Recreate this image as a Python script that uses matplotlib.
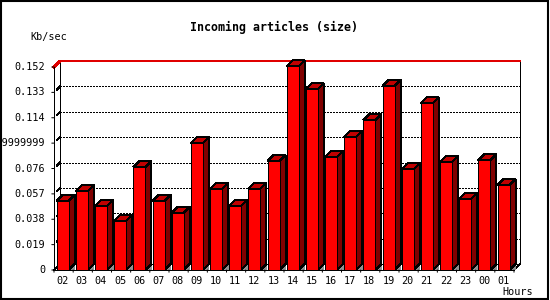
import matplotlib
matplotlib.use('Agg')
import matplotlib.pyplot as plt
from matplotlib.patches import Polygon, Rectangle

# hourly values
hours = ['02', '03', '04', '05', '06', '07', '08', '09', '10', '11', '12', '13',
         '14', '15', '16', '17', '18', '19', '20', '21', '22', '23', '00', '01']
kbsec = [0.0517, 0.0592, 0.0479, 0.0367, 0.0771, 0.0517, 0.0427, 0.0951,
         0.0607, 0.0479, 0.0607, 0.0816, 0.1525, 0.1353, 0.0846, 0.0996,
         0.1121, 0.1378, 0.0756, 0.1248, 0.0807, 0.0532, 0.0821, 0.0636]
yticks = [0, 0.019, 0.038, 0.057, 0.076, 0.095, 0.114, 0.133, 0.152]
ylabels = ['0', '0.019', '0.038', '0.057', '0.076', '0.0949999999',
           '0.114', '0.133', '0.152']

W, H = 550, 300
fig = plt.figure(figsize=(W / 100, H / 100), dpi=100)
fig.patch.set_facecolor('white')
ax = fig.add_axes([54 / W, 30 / H, 460 / W, 203 / H])
ax.set_xlim(0, len(hours))
ax.set_ylim(0, 0.152)
ax.axis('off')

# 3d depth in data units (6 px)
dx = 6 / (460 / len(hours))
dy = 6 / (203 / 0.152)
lw = 0.72
mono = 'DejaVu Sans Mono'

# back plane gridlines
for v in yticks[1:-1]:
    ax.plot([dx, len(hours) + dx], [v + dy, v + dy], color='black', lw=lw,
            linestyle=(0, (2, 2)), clip_on=False, zorder=1, antialiased=False)
    ax.plot([dx * 0.5, dx], [v + dy * 0.5, v + dy], color='black', lw=lw,
            clip_on=False, zorder=1, antialiased=False)

# back plane frame
ax.plot([dx, dx], [dy, 0.152 + dy], color='black', lw=lw, clip_on=False,
        zorder=1, antialiased=False)
ax.plot([len(hours) + dx] * 2, [dy, 0.152 + dy], color='black', lw=lw,
        clip_on=False, zorder=1, antialiased=False)
ax.plot([0, dx, len(hours) + dx], [0.152, 0.152 + dy, 0.152 + dy],
        color='#e00000', lw=1.2, clip_on=False, zorder=1, antialiased=False)
# floor
ax.plot([0, dx], [0, dy], color='black', lw=lw, clip_on=False, zorder=1,
        antialiased=False)
ax.plot([len(hours), len(hours) + dx], [0, dy], color='black', lw=lw,
        clip_on=False, zorder=1, antialiased=False)
ax.plot([dx, len(hours) + dx], [dy, dy], color='black', lw=lw, clip_on=False,
        zorder=1, antialiased=False)

# bars
off, bw = 0.14, 0.626
for i, v in enumerate(kbsec):
    l = i + off
    r = l + bw
    shade = Polygon([(r, 0), (r + dx, dy), (r + dx, 0)], closed=True,
                    facecolor='#909090', edgecolor='none', zorder=2,
                    clip_on=False, antialiased=False)
    side = Polygon([(r, 0), (r + dx, dy), (r + dx, v + dy), (r, v)], closed=True,
                   facecolor='#800000', edgecolor='black', lw=lw, zorder=2,
                   clip_on=False, antialiased=False)
    top = Polygon([(l, v), (r, v), (r + dx, v + dy), (l + dx, v + dy)], closed=True,
                  facecolor='#c00000', edgecolor='black', lw=lw, zorder=2,
                  clip_on=False, antialiased=False)
    front = Rectangle((l, 0), bw, v, facecolor='#ff0000', edgecolor='black',
                      lw=lw, zorder=3, clip_on=False, antialiased=False)
    for p in (shade, side, top, front):
        ax.add_patch(p)

# front axes
ax.plot([0, 0], [0, 0.152], color='black', lw=lw, clip_on=False, zorder=4,
        antialiased=False)
ax.plot([0, len(hours)], [0, 0], color='black', lw=lw, clip_on=False, zorder=4,
        antialiased=False)

ax.set_xticks(range(len(hours) + 1))
ax.set_yticks(yticks)
for v, s in zip(yticks, ylabels):
    ax.annotate('', xy=(0, v), xytext=(-5, 0), textcoords='offset pixels',
                arrowprops=dict(arrowstyle='-', lw=lw, color='black'),
                annotation_clip=False)
    ax.annotate(s, xy=(0, v), xytext=(-9, 0), textcoords='offset pixels',
                ha='right', va='center', fontsize=7.3, family=mono,
                annotation_clip=False)
for i in range(len(hours) + 1):
    ax.annotate('', xy=(i, 0), xytext=(0, -5), textcoords='offset pixels',
                arrowprops=dict(arrowstyle='-', lw=lw, color='black'),
                annotation_clip=False)
for i, h in enumerate(hours):
    ax.annotate(h, xy=(i + 0.45, 0), xytext=(0, -11), textcoords='offset pixels',
                ha='center', va='center', fontsize=7.3, family=mono,
                annotation_clip=False)

fig.text(273.5 / W, 1 - 27 / H, 'Incoming articles (size)', ha='center',
         va='center', fontsize=8.4, family=mono, fontweight='bold')
fig.text(30 / W, 1 - 37 / H, 'Kb/sec', ha='left', va='center', fontsize=7.3,
         family=mono)
fig.text(533 / W, 1 - 292 / H, 'Hours', ha='right', va='center', fontsize=7.3,
         family=mono)

fig.add_artist(Rectangle((0.001, 0.002), 0.996, 0.995, transform=fig.transFigure,
                         fill=False, edgecolor='black', lw=1.5))

fig.savefig('out.png', dpi=100)
